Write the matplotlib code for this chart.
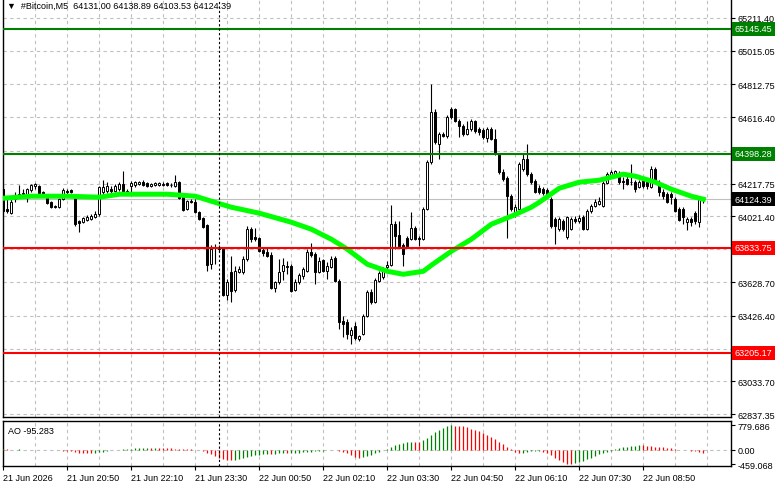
import numpy as np
import matplotlib
matplotlib.use("Agg")
import matplotlib.pyplot as plt

plt.rcParams['font.family'] = ['Liberation Sans', 'DejaVu Sans']
FS = 6.5

# ---- data: #Bitcoin M5 candles (21 Jun 19:30 -> 22 Jun 10:05) ----
opens = [64185, 64065, 64041, 64125, 64149, 64155, 64155, 64179, 64203, 64203,
         64167, 64149, 64107, 64083, 64077, 64125, 64173, 64179, 64131, 63993,
         63987, 63999, 64005, 64017, 64035, 64167, 64173, 64185, 64173, 64185,
         64215, 64173, 64203, 64209, 64215, 64227, 64221, 64203, 64209, 64209,
         64209, 64221, 64209, 64203, 64227, 64137, 64065, 64113, 64107, 64047,
         64011, 63969, 63735, 63831, 63837, 63825, 63549, 63687, 63579, 63687,
         63687, 63765, 63945, 63897, 63891, 63819, 63807, 63789, 63591, 63627,
         63693, 63723, 63723, 63579, 63627, 63663, 63693, 63807, 63795, 63687,
         63759, 63693, 63717, 63771, 63633, 63393, 63387, 63309, 63363, 63285,
         63315, 63423, 63567, 63507, 63633, 63657, 63717, 63729, 63975, 63909,
         63849, 63891, 63885, 63951, 63891, 63885, 64065, 64347, 64647, 64455,
         64515, 64503, 64665, 64665, 64593, 64563, 64515, 64545, 64593, 64545,
         64539, 64491, 64545, 64485, 64389, 64287, 64251, 64143, 64047, 64065,
         64305, 64365, 64275, 64233, 64191, 64185, 64179, 64125, 64005, 63945,
         63993, 63897, 63945, 64005, 63993, 64017, 63945, 64053, 64083, 64095,
         64083, 64221, 64269, 64275, 64281, 64233, 64245, 64227, 64227, 64197,
         64245, 64227, 64197, 64305, 64227, 64167, 64155, 64155, 64125, 64065,
         64065, 63987, 64005, 64041, 63987, 64131.00]
highs = [64209, 64125, 64131, 64167, 64209, 64185, 64191, 64215, 64221, 64209,
         64173, 64155, 64113, 64089, 64131, 64191, 64185, 64185, 64137, 63999,
         64017, 64029, 64035, 64053, 64203, 64239, 64227, 64203, 64215, 64227,
         64293, 64185, 64233, 64233, 64233, 64239, 64227, 64221, 64227, 64227,
         64227, 64227, 64221, 64269, 64233, 64143, 64119, 64125, 64125, 64053,
         64017, 63975, 63849, 63855, 63849, 63837, 63645, 63783, 63723, 63723,
         63783, 63963, 63957, 63951, 63897, 63837, 63831, 63807, 63633, 63765,
         63771, 63753, 63735, 63645, 63681, 63717, 63825, 63861, 63807, 63777,
         63765, 63747, 63783, 63783, 63645, 63423, 63405, 63357, 63387, 63309,
         63435, 63579, 63585, 63651, 63693, 63717, 63753, 64089, 63993, 63993,
         63861, 63903, 64047, 63963, 63903, 64077, 64359, 64815, 64665, 64527,
         64527, 64629, 64677, 64671, 64605, 64575, 64593, 64605, 64599, 64557,
         64551, 64557, 64557, 64545, 64401, 64305, 64263, 64155, 64095, 64347,
         64395, 64455, 64287, 64245, 64209, 64197, 64191, 64137, 64017, 64017,
         64005, 64023, 64017, 64023, 64029, 64029, 64065, 64095, 64125, 64137,
         64233, 64287, 64299, 64299, 64293, 64257, 64263, 64335, 64239, 64239,
         64257, 64239, 64323, 64317, 64239, 64185, 64167, 64167, 64137, 64077,
         64077, 64017, 64017, 64053, 64137, 64138.89]
lows = [64047, 64041, 64035, 64107, 64137, 64137, 64107, 64167, 64185, 64155,
        64149, 64095, 64071, 64071, 64071, 64119, 64155, 64161, 63963, 63927,
        63981, 63993, 63999, 64011, 64023, 64143, 64161, 64155, 64167, 64173,
        64161, 64161, 64167, 64197, 64209, 64203, 64197, 64197, 64203, 64203,
        64203, 64203, 64197, 64197, 64125, 64053, 64059, 64101, 64041, 63999,
        63951, 63693, 63705, 63735, 63807, 63543, 63519, 63507, 63567, 63681,
        63675, 63753, 63867, 63873, 63807, 63783, 63777, 63585, 63567, 63615,
        63639, 63675, 63567, 63573, 63615, 63645, 63687, 63777, 63615, 63681,
        63687, 63645, 63711, 63627, 63345, 63297, 63285, 63255, 63279, 63273,
        63309, 63417, 63495, 63501, 63627, 63645, 63705, 63723, 63825, 63837,
        63723, 63837, 63879, 63879, 63843, 63879, 64059, 64335, 64455, 64365,
        64497, 64491, 64605, 64587, 64497, 64503, 64509, 64533, 64521, 64509,
        64485, 64467, 64479, 64389, 64275, 64233, 63891, 64053, 64017, 64053,
        64293, 64263, 64215, 64161, 64155, 64149, 64143, 63951, 63855, 63933,
        63933, 63885, 63939, 63981, 63981, 63939, 63939, 64041, 64077, 64089,
        64077, 64215, 64263, 64269, 64215, 64185, 64209, 64209, 64167, 64191,
        64191, 64185, 64191, 64215, 64143, 64125, 64101, 64095, 64047, 63993,
        63975, 63939, 63963, 63975, 63957, 64103.53]
closes = [64053, 64053, 64107, 64143, 64155, 64161, 64185, 64209, 64215, 64161,
          64155, 64101, 64077, 64077, 64125, 64179, 64167, 64167, 63975, 63981,
          64011, 64017, 64023, 64035, 64197, 64197, 64203, 64173, 64203, 64215,
          64167, 64167, 64221, 64227, 64227, 64209, 64203, 64215, 64221, 64221,
          64215, 64209, 64209, 64227, 64131, 64059, 64113, 64107, 64047, 64005,
          63957, 63729, 63825, 63831, 63825, 63549, 63627, 63573, 63693, 63705,
          63765, 63945, 63885, 63885, 63813, 63801, 63783, 63591, 63627, 63687,
          63729, 63717, 63573, 63627, 63669, 63705, 63807, 63789, 63687, 63753,
          63693, 63723, 63765, 63633, 63387, 63375, 63315, 63339, 63291, 63303,
          63423, 63567, 63507, 63639, 63681, 63705, 63729, 63975, 63903, 63843,
          63795, 63843, 63951, 63885, 63885, 64065, 64347, 64647, 64467, 64515,
          64503, 64617, 64617, 64593, 64563, 64515, 64545, 64593, 64533, 64527,
          64497, 64545, 64485, 64401, 64287, 64245, 64143, 64065, 64077, 64335,
          64365, 64275, 64227, 64167, 64167, 64161, 64149, 63963, 63963, 64005,
          63945, 64017, 64005, 63993, 64011, 63945, 64053, 64083, 64107, 64113,
          64221, 64275, 64287, 64293, 64227, 64227, 64215, 64227, 64185, 64227,
          64203, 64203, 64305, 64227, 64167, 64143, 64107, 64137, 64053, 63999,
          64017, 64005, 63987, 63993, 64125, 64124.39]

# moving average, read at a subset of bars
ma_idx = [0, 7, 16, 24, 29, 41, 48, 52, 57, 64, 72, 77, 82, 86, 91, 96, 100,
          105, 107, 112, 117, 122, 127, 132, 134, 139, 144, 149, 155, 158, 163,
          167, 172, 175]
ma_val = [64131, 64143, 64143, 64137, 64155, 64155, 64143, 64113, 64077, 64041,
          63987, 63945, 63885, 63825, 63735, 63693, 63675, 63693, 63729, 63813,
          63885, 63975, 64023, 64077, 64107, 64191, 64227, 64239, 64275, 64263,
          64227, 64185, 64143, 64125]

# Awesome Oscillator
ao = [10, 8, 5, 4, 6, 3, 2, 4, 3, 1,
      -2, -5, -15, -20, -25, -30, -40, -55, -70, -90,
      -100, -110, -115, -105, -85, -60, -40, -25, -10, 5,
      15, 25, 30, 38, 45, 48, 50, 47, 52, 48,
      45, 42, 38, 35, 30, 25, 20, 12, 5, -15,
      -50, -100, -150, -200, -250, -290, -320, -340, -330, -300,
      -270, -240, -210, -180, -160, -140, -130, -135, -125, -120,
      -110, -115, -105, -100, -90, -80, -70, -60, -50, -45,
      -30, -15, -5, -10, -30, -70, -120, -170, -220, -260,
      -245, -210, -170, -120, -70, -20, 30, 90, 150, 190,
      220, 235, 245, 240, 230, 300, 380, 470, 560, 640,
      700, 750, 779.686, 770, 760, 740, 710, 670, 630, 580,
      530, 470, 410, 340, 260, 180, 100, 30, -60, -110,
      -100, -70, -55, -50, -40, -60, -100, -170, -250, -330,
      -400, -445, -459.068, -440, -400, -350, -300, -250, -200, -150,
      -100, -60, -30, 10, 40, 70, 95, 115, 130, 140,
      135, 125, 110, 100, 85, 70, 55, 40, 20, 5,
      -10, -25, -40, -55, -70, -95.283]

time_idx = [0, 16, 32, 48, 64, 80, 96, 112, 128, 144, 160]
time_labels = ["21 Jun 2026", "21 Jun 20:50", "21 Jun 22:10", "21 Jun 23:30",
               "22 Jun 00:50", "22 Jun 02:10", "22 Jun 03:30", "22 Jun 04:50",
               "22 Jun 06:10", "22 Jun 07:30", "22 Jun 08:50"]
day_sep = 54

price_ticks = [65211.40, 65015.05, 64812.75, 64616.40, 64217.75, 64021.40,
               63628.70, 63426.40, 63033.70, 62837.35]
grid_prices = price_ticks + [64414.10, 63825.05, 63230.05]
green_levels = [65145.45, 64398.28]
red_levels = [63833.75, 63205.17]
last_price = 64124.39
ao_ticks = [779.686, 0.0, -459.068]

# ---- figure ----
W, H = 781, 489
fig = plt.figure(figsize=(W / 100, H / 100), dpi=100)
ax = fig.add_axes([3 / W, (H - 418) / H, 727.5 / W, 417 / H])
ax2 = fig.add_axes([3 / W, (H - 467) / H, 727.5 / W, 45.5 / H])

n = len(closes)
x = np.arange(n)
o = np.array(opens); c = np.array(closes)
h = np.array(highs); l = np.array(lows)

grid_kw = dict(color='#c0c0c0', lw=0.8, dashes=(3, 3), zorder=0)
for gx in range(8, 182, 8):
    ax.axvline(gx, **grid_kw)
    ax2.axvline(gx, **grid_kw)
for gp in grid_prices:
    ax.axhline(gp, **grid_kw)
ax2.axhline(0, **grid_kw)

ax.axhline(last_price, color='#c0c0c0', lw=0.8, zorder=1)

# candles
ax.vlines(x, l, h, color='black', lw=0.8, zorder=2)
up = c >= o
ax.bar(x, np.abs(c - o), bottom=np.minimum(o, c), width=0.55,
       color=np.where(up, 'white', 'black'), edgecolor='black', lw=0.7, zorder=3)

ax.plot(ma_idx, ma_val, color='#00ff00', lw=3.6, zorder=4, solid_joinstyle='round')

for lv in green_levels:
    ax.axhline(lv, color='#008000', lw=1.5, zorder=5)
for lv in red_levels:
    ax.axhline(lv, color='#ff0000', lw=1.5, zorder=5)

ax.axvline(day_sep, color='black', lw=0.8, dashes=(2, 2), zorder=5)
ax2.axvline(day_sep, color='black', lw=0.8, dashes=(2, 2), zorder=5)

ax.set_xlim(-0.1, 181.8)
ax.set_ylim(62819.4, 65319.3)
ax.yaxis.tick_right()
ax.set_yticks(price_ticks)
ax.set_yticklabels([f"{p:.2f}" for p in price_ticks])
ax.tick_params(axis='y', length=3, width=0.8, pad=2, labelsize=FS)
ax.set_xticks([])
ax.spines['top'].set_visible(False)
for s in ['left', 'right', 'bottom']:
    ax.spines[s].set_linewidth(1.0)

def tag(axis, price, fc):
    axis.annotate(f"{price:.2f}", xy=(1, price), xycoords=('axes fraction', 'data'),
                  xytext=(3, 0), textcoords='offset points', va='center', ha='left',
                  fontsize=FS, color='white', annotation_clip=False,
                  bbox=dict(boxstyle='square,pad=0.28', fc=fc, ec='none'))

for lv in green_levels:
    tag(ax, lv, '#008000')
for lv in red_levels:
    tag(ax, lv, '#ff0000')
tag(ax, last_price, 'black')

ax.text(0.006, 0.988, "\u25bc  #Bitcoin,M5  64131.00 64138.89 64103.53 64124.39",
        transform=ax.transAxes, fontsize=FS, va='center', ha='left', color='black')

# AO histogram
aov = np.array(ao)
rising = np.concatenate([[True], aov[1:] > aov[:-1]])
ax2.vlines(x, 0, aov, colors=np.where(rising, '#008000', '#ff0000'), lw=0.9, zorder=3)
ax2.set_xlim(-0.1, 181.8)
ax2.set_ylim(-520, 930)
ax2.yaxis.tick_right()
ax2.set_yticks(ao_ticks)
ax2.set_yticklabels(["779.686", "0.00", "-459.068"])
ax2.tick_params(axis='y', length=3, width=0.8, pad=2, labelsize=FS)
ax2.set_xticks(time_idx)
ax2.set_xticklabels(time_labels, ha='left')
ax2.tick_params(axis='x', length=3, width=0.8, pad=2, labelsize=FS)
for s in ax2.spines.values():
    s.set_linewidth(1.0)
ax2.text(0.007, 0.78, "AO -95.283", transform=ax2.transAxes, fontsize=FS,
         va='center', ha='left')

fig.savefig('out.png', dpi=100)
